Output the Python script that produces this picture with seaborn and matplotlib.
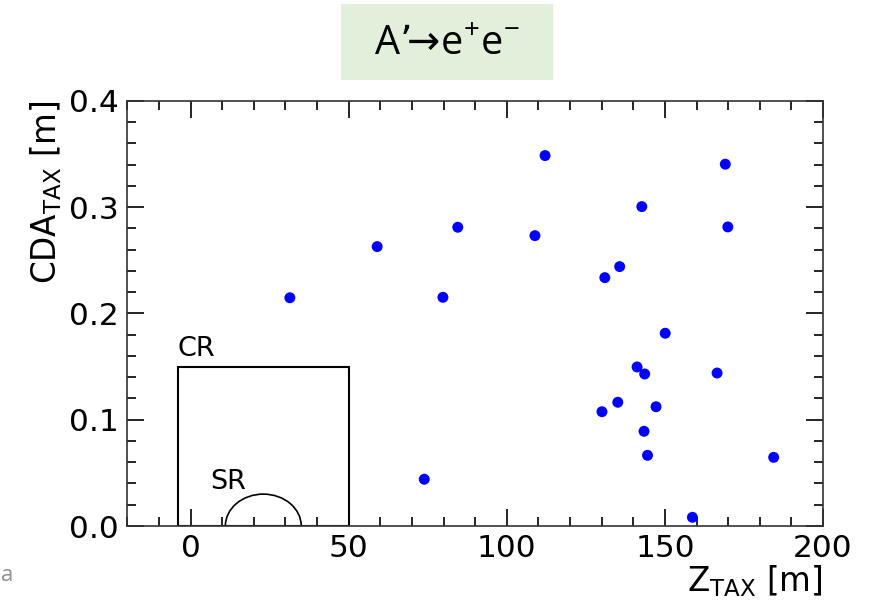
import matplotlib
matplotlib.use("Agg")
import matplotlib.pyplot as plt
import seaborn as sns
import pandas as pd
from matplotlib.patches import Rectangle, Arc
from matplotlib.ticker import MultipleLocator

# ---- data ----
z_tax = [31.4, 59.0, 84.5, 79.8, 108.9, 112.1, 73.9, 131.0, 135.7, 142.7,
         169.1, 169.9, 150.1, 141.2, 143.6, 166.5, 135.1, 130.1, 147.2,
         143.4, 144.5, 184.4, 158.7]
cda_tax = [0.2147, 0.2628, 0.281, 0.2151, 0.2731, 0.3484, 0.044, 0.2336,
           0.2440, 0.3004, 0.3403, 0.2813, 0.1813, 0.1496, 0.1430, 0.1439,
           0.1164, 0.1075, 0.1122, 0.0891, 0.0665, 0.0646, 0.0082]
x_ticks = [0, 50, 100, 150, 200]
y_ticks = [0.0, 0.1, 0.2, 0.3, 0.4]
cr_box = [-4, 50, 0.15]        # x0, x1, height
sr_arc = [23, 12, 0.03]        # centre, half-width, height
title_text = r"A’$\!\!\rightarrow\!$e$\mathregular{^{+}}$e$\mathregular{^{-}}$"

df = pd.DataFrame({"z": z_tax, "cda": cda_tax})

sns.set_style("ticks")
plt.rcParams["font.family"] = ["DejaVu Sans"]
plt.rcParams.update({"text.color": "black", "axes.labelcolor": "black",
                     "xtick.color": "black", "ytick.color": "black"})

fig = plt.figure(figsize=(8.71, 6.02), dpi=100)
ax = fig.add_axes([0.1462, 0.1262, 0.7987, 0.7065])

sns.scatterplot(data=df, x="z", y="cda", ax=ax, color="#0000ff",
                s=62, edgecolor="none", linewidth=0, legend=False, zorder=3)

ax.set_xlim(-20, 200)
ax.set_ylim(0.0, 0.4)
ax.set_xticks(x_ticks)
ax.set_yticks(y_ticks)
ax.set_yticklabels([f"{v:.1f}" for v in y_ticks])
ax.xaxis.set_minor_locator(MultipleLocator(10))
ax.yaxis.set_minor_locator(MultipleLocator(0.02))
ax.tick_params(which="both", direction="in", top=True, right=True,
               color="black", width=1.2)
ax.tick_params(which="major", length=12, labelsize=22.5, pad=6)
ax.tick_params(which="minor", length=6.5)
for sp in ax.spines.values():
    sp.set_color("#333333")
    sp.set_linewidth(1.2)

ax.set_xlabel(r"$\mathregular{Z_{TAX}}$ [m]", fontsize=23.5, loc="right", labelpad=0)
ax.set_ylabel(r"$\mathregular{CDA_{TAX}}$ [m]", fontsize=23.5, loc="top", labelpad=4)

# CR box
ax.add_patch(Rectangle((cr_box[0], 0), cr_box[1] - cr_box[0], cr_box[2],
                       fill=False, edgecolor="black", linewidth=1.5, zorder=2))
ax.text(cr_box[0], cr_box[2] + 0.01, "CR", fontsize=19.5, ha="left", va="baseline")

# SR half ellipse
ax.add_patch(Arc((sr_arc[0], 0), 2 * sr_arc[1], 2 * sr_arc[2], theta1=0, theta2=180,
                 edgecolor="black", linewidth=1.2, zorder=2))
ax.text(6.3, 0.035, "SR", fontsize=19.5, ha="left", va="baseline")

# title box
fig.patches.append(Rectangle((0.3915, 0.8671), 0.2434, 0.1262, transform=fig.transFigure,
                             facecolor="#e2efda", edgecolor="none", zorder=0))
fig.text(0.5135, 0.925, title_text, fontsize=28.5, ha="center", va="center",
         family=["Open Sans", "DejaVu Sans"])

# cropped fragment at bottom left
fig.text(0.001, 0.035, "a", fontsize=16, color="#909090", ha="left", va="baseline",
         family=["Open Sans", "DejaVu Sans"])

fig.savefig("out.png", dpi=100)
